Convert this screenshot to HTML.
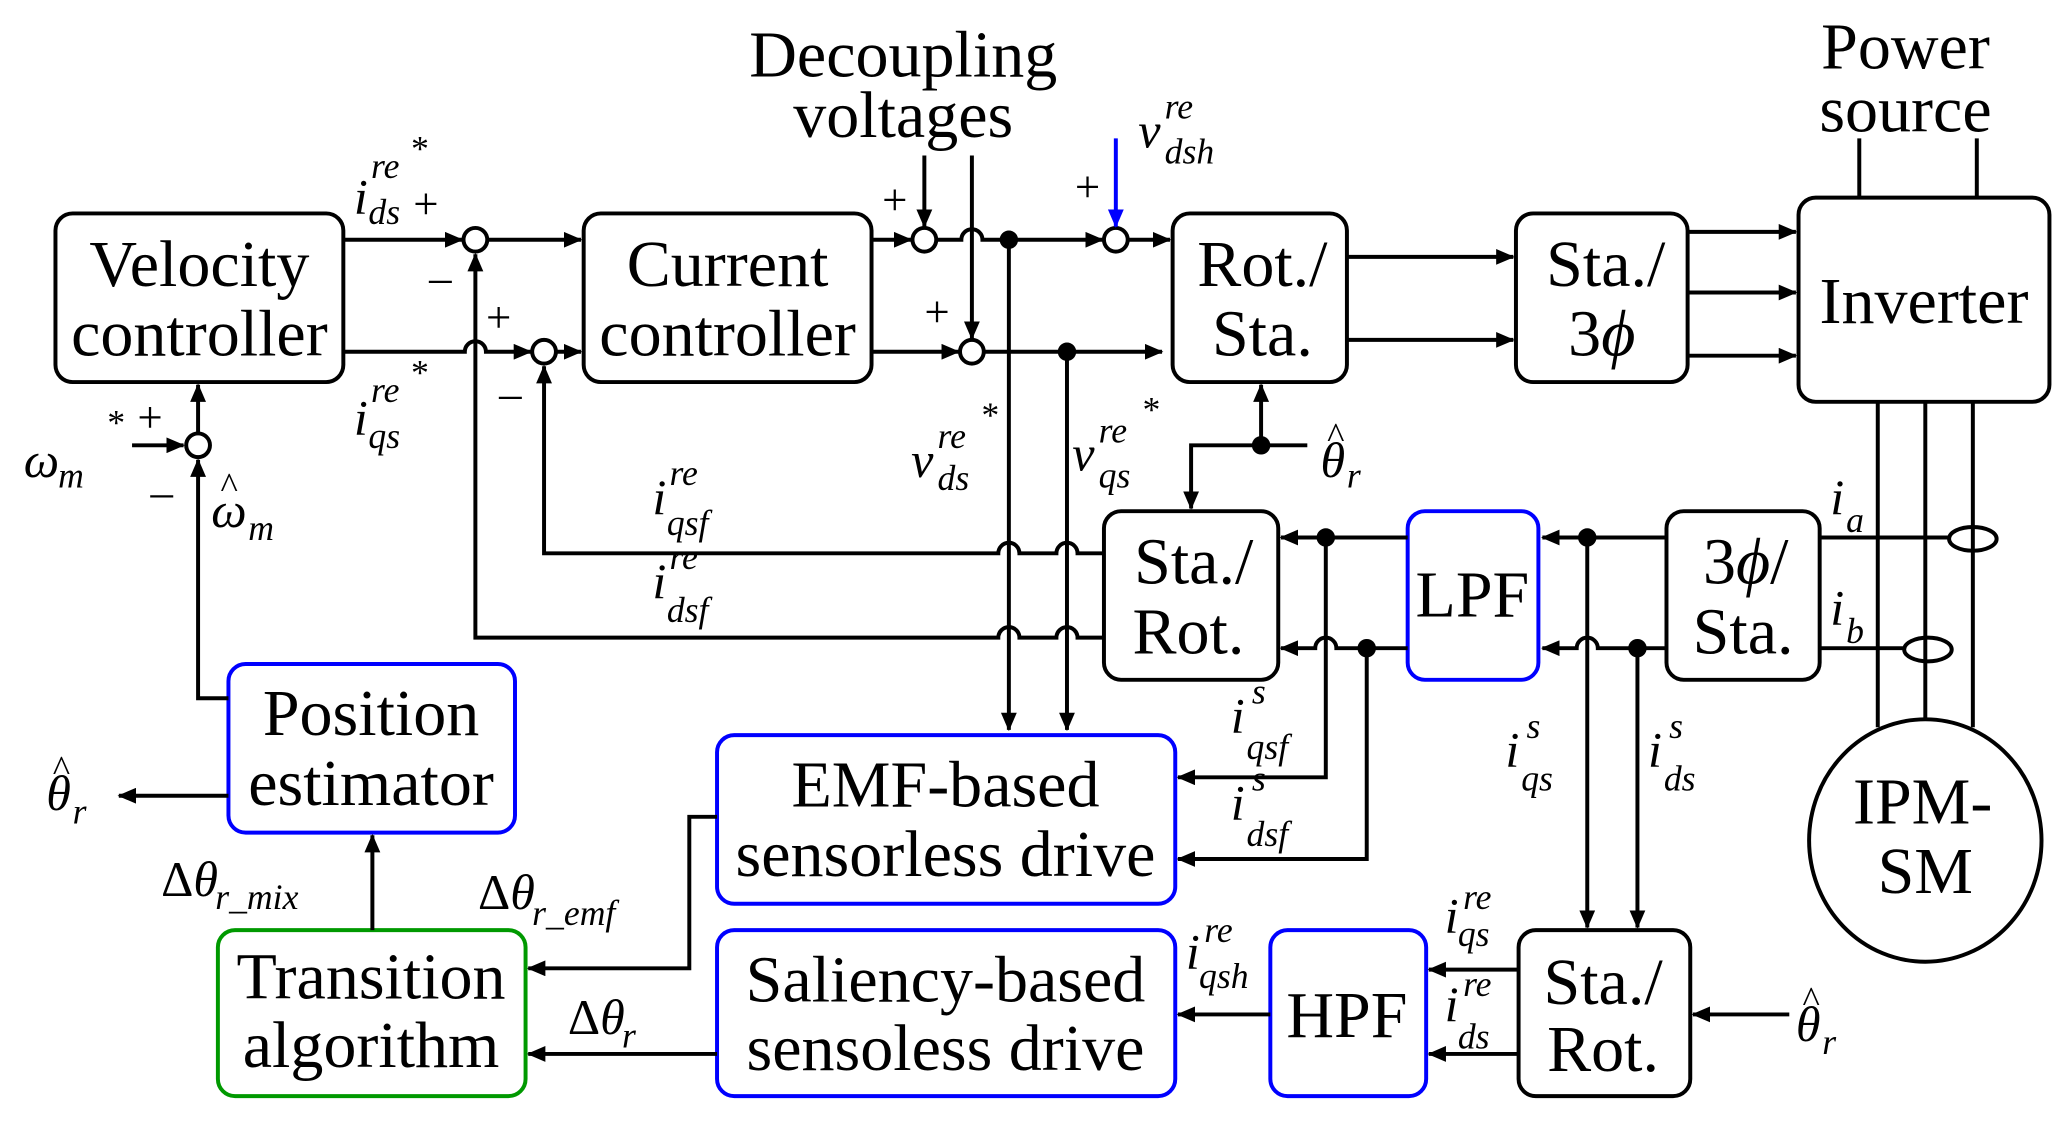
<!DOCTYPE html>
<html><head><meta charset="utf-8"><style>
html,body{margin:0;padding:0;background:#fff;}
svg{display:block;}
text{font-family:"Liberation Serif",serif;fill:#000;}
.b{font-size:50px;text-anchor:middle;}
.m{font-size:38px;font-style:italic;}
.s{font-size:27px;font-style:italic;}
.p{font-size:34px;}
.h{font-size:28px;}
</style></head><body>
<svg width="2060" height="1133" viewBox="0 0 1560 860" preserveAspectRatio="none" xmlns="http://www.w3.org/2000/svg">
<defs>
<marker id="a" markerWidth="14" markerHeight="12" refX="13" refY="6" orient="auto" markerUnits="userSpaceOnUse"><path d="M0,0 L14,6 L0,12 Z" fill="#000"/></marker>
<marker id="ab" markerWidth="14" markerHeight="12" refX="13" refY="6" orient="auto" markerUnits="userSpaceOnUse"><path d="M0,0 L14,6 L0,12 Z" fill="#00f"/></marker>
</defs>
<g fill="none" stroke="#000" stroke-width="3">
<rect x="42" y="162" width="218" height="128" rx="13"/>
<rect x="442" y="162" width="218" height="128" rx="13"/>
<rect x="888" y="162" width="132" height="128" rx="13"/>
<rect x="1148" y="162" width="130" height="128" rx="13"/>
<rect x="1362" y="150" width="190" height="155" rx="13"/>
<rect x="836" y="388" width="132" height="128" rx="13"/>
<rect x="1262" y="388" width="116" height="128" rx="13"/>
<rect x="1150" y="706" width="130" height="126" rx="13"/>
<ellipse cx="1458" cy="638" rx="88" ry="92"/>
<g stroke="#00f">
<rect x="1066" y="388" width="99" height="128" rx="13"/>
<rect x="173" y="504" width="217" height="128" rx="13"/>
<rect x="543" y="558" width="347" height="128" rx="13"/>
<rect x="543" y="706" width="347" height="126" rx="13"/>
<rect x="962" y="706" width="118" height="126" rx="13"/>
</g>
<rect x="165" y="706" width="233" height="126" rx="13" stroke="#090"/>
<circle cx="360" cy="182" r="9"/><circle cx="412" cy="267" r="9"/>
<circle cx="700" cy="182" r="9"/><circle cx="736" cy="267" r="9"/>
<circle cx="845" cy="182" r="9"/><circle cx="150" cy="338" r="9"/>
<path d="M260,182 H350" marker-end="url(#a)"/>
<path d="M369,182 H440" marker-end="url(#a)"/>
<path d="M660,182 H690" marker-end="url(#a)"/>
<path d="M709,182 H728 A8,8 0 0 1 744,182 H835" marker-end="url(#a)"/>
<path d="M854,182 H886" marker-end="url(#a)"/>
<path d="M260,267 H352 A8,8 0 0 1 368,267 H402" marker-end="url(#a)"/>
<path d="M421,267 H440" marker-end="url(#a)"/>
<path d="M660,267 H726" marker-end="url(#a)"/>
<path d="M745,267 H880" marker-end="url(#a)"/>
<path d="M700,118 V172" marker-end="url(#a)"/>
<path d="M736,118 V257" marker-end="url(#a)"/>
<path d="M845,105 V172" stroke="#00f" marker-end="url(#ab)"/>
<path d="M1020,195 H1146" marker-end="url(#a)"/>
<path d="M1020,258 H1146" marker-end="url(#a)"/>
<path d="M1278,176 H1360" marker-end="url(#a)"/>
<path d="M1278,222 H1360" marker-end="url(#a)"/>
<path d="M1278,270 H1360" marker-end="url(#a)"/>
<path d="M1408,105 V150 M1497,105 V150"/>
<path d="M1422,305 V552 M1458,305 V546 M1494,305 V552"/>
<path d="M1378,408 H1476 M1378,492 H1442"/>
<ellipse cx="1494" cy="409" rx="18" ry="9"/><ellipse cx="1460" cy="493" rx="18" ry="9"/>
<path d="M1262,408 H1168" marker-end="url(#a)"/>
<path d="M1262,492 H1210 A8,8 0 0 0 1194,492 H1168" marker-end="url(#a)"/>
<path d="M1202,408 V704" marker-end="url(#a)"/>
<path d="M1240,492 V704" marker-end="url(#a)"/>
<path d="M1066,408 H970" marker-end="url(#a)"/>
<path d="M1066,492 H1012 A8,8 0 0 0 996,492 H970" marker-end="url(#a)"/>
<path d="M1004,408 V590 H892" marker-end="url(#a)"/>
<path d="M1035,492 V652 H892" marker-end="url(#a)"/>
<path d="M836,420 H816 A8,8 0 0 0 800,420 H772 A8,8 0 0 0 756,420 H412 V278" marker-end="url(#a)"/>
<path d="M836,484 H816 A8,8 0 0 0 800,484 H772 A8,8 0 0 0 756,484 H360 V193" marker-end="url(#a)"/>
<path d="M764,182 V554" marker-end="url(#a)"/>
<path d="M808,267 V554" marker-end="url(#a)"/>
<path d="M990,338 H955 V292" marker-end="url(#a)"/>
<path d="M955,338 H902 V386" marker-end="url(#a)"/>
<path d="M100,338 H139" marker-end="url(#a)"/>
<path d="M150,329 V292" marker-end="url(#a)"/>
<path d="M173,530 H150 V349" marker-end="url(#a)"/>
<path d="M173,604 H90" marker-end="url(#a)"/>
<path d="M282,706 V634" marker-end="url(#a)"/>
<path d="M543,620 H522 V735 H400" marker-end="url(#a)"/>
<path d="M543,800 H400" marker-end="url(#a)"/>
<path d="M962,770 H892" marker-end="url(#a)"/>
<path d="M1150,736 H1082" marker-end="url(#a)"/>
<path d="M1150,800 H1082" marker-end="url(#a)"/>
<path d="M1355,770 H1282" marker-end="url(#a)"/>
</g>
<g fill="#000">
<circle cx="764" cy="182" r="7"/><circle cx="808" cy="267" r="7"/><circle cx="955" cy="338" r="7"/>
<circle cx="1004" cy="408" r="7"/><circle cx="1035" cy="492" r="7"/><circle cx="1202" cy="408" r="7"/><circle cx="1240" cy="492" r="7"/>
</g>
<text class="b" x="151" y="217">Velocity</text><text class="b" x="151" y="270">controller</text>
<text class="b" x="551" y="217">Current</text><text class="b" x="551" y="270">controller</text>
<text class="b" x="956" y="217">Rot./</text><text class="b" x="956" y="270">Sta.</text>
<text class="b" x="1216" y="217">Sta./</text><text class="b" x="1213" y="270">3<tspan font-style="italic">ϕ</tspan></text>
<text class="b" x="1457" y="245">Inverter</text>
<text class="b" x="904" y="443">Sta./</text><text class="b" x="900" y="496">Rot.</text>
<text class="b" x="1115" y="468">LPF</text>
<text class="b" x="1322" y="443">3<tspan font-style="italic">ϕ</tspan>/</text><text class="b" x="1320" y="496">Sta.</text>
<text class="b" x="1214" y="762">Sta./</text><text class="b" x="1214" y="813">Rot.</text>
<text class="b" x="1020" y="787">HPF</text>
<text class="b" x="1456" y="625">IPM-</text><text class="b" x="1458" y="678">SM</text>
<text class="b" x="281" y="558">Position</text><text class="b" x="281" y="611">estimator</text>
<text class="b" x="716" y="612">EMF-based</text><text class="b" x="716" y="665">sensorless drive</text>
<text class="b" x="716" y="760">Saliency-based</text><text class="b" x="716" y="812">sensoless drive</text>
<text class="b" x="281" y="758">Transition</text><text class="b" x="281" y="810">algorithm</text>
<text class="b" x="684" y="58">Decoupling</text><text class="b" x="684" y="104">voltages</text>
<text class="b" x="1443" y="52">Power</text><text class="b" x="1443" y="100">source</text>
<g>
<text class="m" x="268" y="162">i</text><text class="s" x="281" y="135">re</text><text class="s" x="310" y="122">*</text><text class="s" x="279" y="170">ds</text><text class="p" x="313" y="166">+</text>
<text class="p" x="325" y="222">–</text>
<text class="m" x="268" y="330">i</text><text class="s" x="281" y="305">re</text><text class="s" x="310" y="292">*</text><text class="s" x="279" y="340">qs</text>
<text class="p" x="368" y="252">+</text><text class="p" x="378" y="310">–</text>
<text class="p" x="668" y="163">+</text><text class="p" x="700" y="248">+</text><text class="p" x="814" y="153">+</text>
<text class="m" x="862" y="112">v</text><text class="s" x="882" y="90">re</text><text class="s" x="882" y="124">dsh</text>
<text class="m" x="690" y="362">v</text><text class="s" x="710" y="340">re</text><text class="s" x="742" y="324">*</text><text class="s" x="710" y="372">ds</text>
<text class="m" x="812" y="357">v</text><text class="s" x="832" y="336">re</text><text class="s" x="864" y="320">*</text><text class="s" x="832" y="370">qs</text>
<text class="m" x="1000" y="362">θ</text><text class="h" x="1005" y="340">^</text><text class="s" x="1020" y="370">r</text>
<text class="m" x="18" y="362">ω</text><text class="s" x="44" y="370">m</text><text class="s" x="80" y="330">*</text><text class="p" x="104" y="328">+</text><text class="p" x="114" y="385">–</text>
<text class="m" x="160" y="400">ω</text><text class="h" x="167" y="378">^</text><text class="s" x="188" y="410">m</text>
<text class="m" x="494" y="390">i</text><text class="s" x="507" y="368">re</text><text class="s" x="505" y="406">qsf</text>
<text class="m" x="494" y="454">i</text><text class="s" x="507" y="432">re</text><text class="s" x="505" y="472">dsf</text>
<text class="m" x="1386" y="390">i</text><text class="s" x="1398" y="404">a</text>
<text class="m" x="1386" y="474">i</text><text class="s" x="1398" y="488">b</text>
<text class="m" x="932" y="556">i</text><text class="s" x="948" y="534">s</text><text class="s" x="944" y="576">qsf</text>
<text class="m" x="932" y="622">i</text><text class="s" x="948" y="600">s</text><text class="s" x="944" y="642">dsf</text>
<text class="m" x="1140" y="582">i</text><text class="s" x="1156" y="560">s</text><text class="s" x="1152" y="600">qs</text>
<text class="m" x="1248" y="582">i</text><text class="s" x="1264" y="560">s</text><text class="s" x="1260" y="600">ds</text>
<text class="m" x="1094" y="708">i</text><text class="s" x="1108" y="690">re</text><text class="s" x="1104" y="718">qs</text>
<text class="m" x="1094" y="775">i</text><text class="s" x="1108" y="756">re</text><text class="s" x="1104" y="796">ds</text>
<text class="m" x="898" y="735">i</text><text class="s" x="912" y="715">re</text><text class="s" x="908" y="750">qsh</text>
<text class="m" x="35" y="615">θ</text><text class="h" x="40" y="593">^</text><text class="s" x="55" y="625">r</text>
<text class="m" x="1360" y="790">θ</text><text class="h" x="1365" y="768">^</text><text class="s" x="1380" y="800">r</text>
<text class="m" x="122" y="680"><tspan font-style="normal">Δ</tspan>θ</text><text class="s" x="163" y="690">r_mix</text>
<text class="m" x="362" y="690"><tspan font-style="normal">Δ</tspan>θ</text><text class="s" x="403" y="702">r_emf</text>
<text class="m" x="430" y="785"><tspan font-style="normal">Δ</tspan>θ</text><text class="s" x="471" y="795">r</text>
</g>
</svg>
</body></html>
